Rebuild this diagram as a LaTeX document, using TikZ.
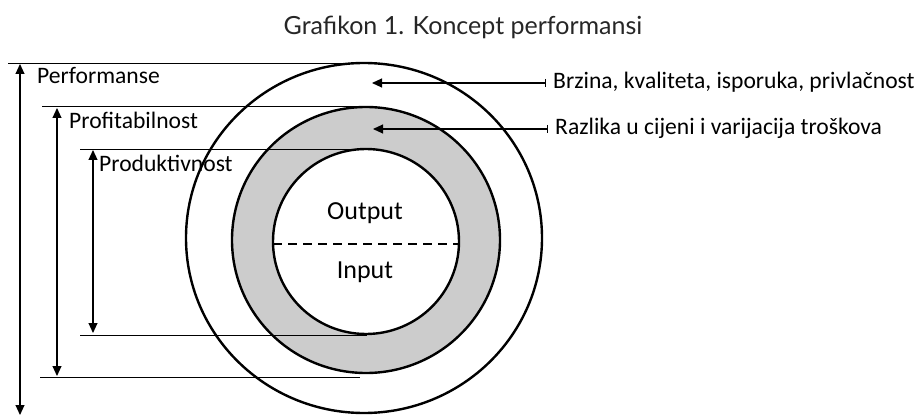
\documentclass[tikz,border=0pt]{standalone}
\usepackage{fontspec}
\setmainfont{Carlito}
\newfontfamily\titlefont{Lato}
\usetikzlibrary{arrows.meta}
\begin{document}
\begin{tikzpicture}[x=1pt,y=-1pt,
  ring/.style={line width=2.4pt},
  guide/.style={line width=0.8pt},
  dimarrow/.style={line width=1.1pt,{Triangle[length=10pt,width=9pt]}-{Triangle[length=10pt,width=9pt]}},
  callout/.style={line width=1.1pt,{Bar[width=8pt]}-{Triangle[length=10pt,width=9pt]}},
  lbl/.style={font=\fontsize{23.6}{26}\selectfont,inner sep=0pt,anchor=base west},
  clbl/.style={font=\fontsize{26}{28}\selectfont,inner sep=0pt,anchor=base}]
\useasboundingbox (0,0) rectangle (922,417);
% title
\node[font=\titlefont\fontsize{25}{27}\selectfont,text=black!85,inner sep=0pt,anchor=base] (title) at (463,35) {Grafikon 1. Koncept performansi};
% circles
\draw[ring] (364,238) ellipse [x radius=178, y radius=175];
\draw[ring,fill=black!20] (366,240) ellipse [x radius=134, y radius=133];
\draw[ring,fill=white] (366,241.5) ellipse [x radius=93, y radius=92.5];
% dashed divider
\coordinate (dl) at (273,244);
\coordinate (dr) at (459,244);
\draw[line width=2.2pt,dash pattern=on 9pt off 6pt] (dl) -- (dr);
\node[clbl] (out) at (365,220) {Output};
\node[clbl] (in) at (365,278) {Input};
% guide lines
\coordinate (g1a) at (8,63);   \coordinate (g1b) at (363,63);
\coordinate (g2a) at (42,106); \coordinate (g2b) at (373,106);
\coordinate (g3a) at (80,149); \coordinate (g3b) at (363,149);
\coordinate (g4a) at (80,335); \coordinate (g4b) at (367,335);
\coordinate (g5a) at (40,377); \coordinate (g5b) at (360,377);
\draw[guide] (g1a) -- (g1b);
\draw[guide] (g2a) -- (g2b);
\draw[guide] (g3a) -- (g3b);
\draw[guide] (g4a) -- (g4b);
\draw[guide] (g5a) -- (g5b);
% dimension arrows
\coordinate (p1t) at (20,64);  \coordinate (p1b) at (20,415);
\coordinate (p2t) at (57,108); \coordinate (p2b) at (57,376);
\coordinate (p3t) at (93,150); \coordinate (p3b) at (93,333);
\draw[dimarrow] (p1t) -- (p1b);
\draw[dimarrow] (p2t) -- (p2b);
\draw[dimarrow] (p3t) -- (p3b);
\node[lbl] (perf) at (37,84) {Performanse};
\node[lbl] (prof) at (69,129) {Profitabilnost};
\node[lbl] (prod) at (99,172) {Produktivnost};
% callouts
\coordinate (c1s) at (546,83); \coordinate (c1e) at (372,83);
\coordinate (c2s) at (548,129); \coordinate (c2e) at (373,129);
\draw[callout] (c1s) -- (c1e);
\draw[callout] (c2s) -- (c2e);
\node[lbl] (brz) at (553,89) {Brzina, kvaliteta, isporuka, privlačnost};
\node[lbl] (raz) at (555,135) {Razlika u cijeni i varijacija troškova};
\end{tikzpicture}
\end{document}
